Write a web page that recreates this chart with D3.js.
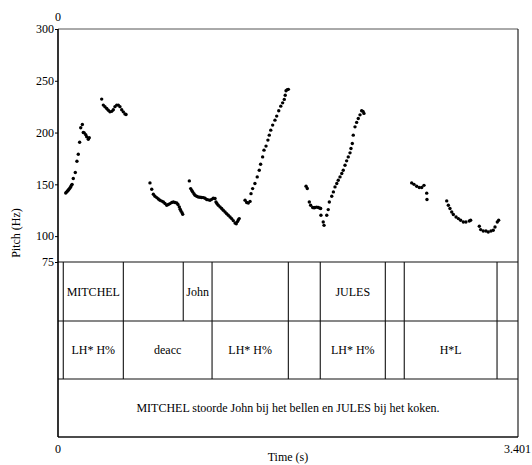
<!DOCTYPE html>
<html><head><meta charset="utf-8">
<script src="https://cdn.jsdelivr.net/npm/d3@7"></script>
<style>body{margin:0;background:#fff}svg{display:block}</style>
</head><body><svg id="c" width="532" height="465"></svg>
<script>
const pitchTime = [
0.057,0.063,0.069,0.075,0.081,0.088,0.094,0.099,0.104,0.113,0.128,0.140,0.150,0.160,0.168,0.180,0.187,0.194,0.205,0.212,0.224,0.231,
0.323,0.335,0.347,0.360,0.372,0.384,0.397,0.409,0.421,0.434,0.446,0.458,0.471,0.483,0.495,0.503,
0.680,0.693,0.705,0.717,0.730,0.742,0.754,0.767,0.779,0.791,0.804,0.816,0.828,0.841,0.853,0.865,0.878,0.887,0.897,0.903,0.909,0.917,0.922,
0.971,0.981,0.989,0.996,1.005,1.013,1.025,1.037,1.050,1.062,1.075,1.087,1.099,1.111,1.124,1.136,1.148,1.161,1.168,1.175,1.185,1.198,1.210,1.222,1.235,1.247,1.259,1.272,1.284,1.296,1.309,1.318,1.327,1.333,1.340,
1.383,1.395,1.407,1.420,1.427,1.439,1.456,1.473,1.488,1.498,1.513,1.523,1.538,1.552,1.562,1.573,1.587,1.604,1.617,1.632,1.647,1.661,1.673,1.680,1.686,1.695,1.703,
1.834,1.843,1.858,1.868,1.883,1.893,1.900,1.913,1.925,1.937,1.942,1.944,1.961,1.967,1.987,1.998,2.006,2.024,2.036,2.048,2.061,2.072,2.085,2.098,2.109,2.122,2.134,2.146,2.159,2.166,2.176,2.183,2.196,2.208,2.220,2.233,2.245,2.255,2.262,
2.615,2.632,2.652,2.671,2.689,2.706,2.726,2.728,
2.874,2.886,2.898,2.911,2.923,2.943,2.960,2.977,2.997,3.016,3.041,3.051,
3.115,3.125,3.144,3.164,3.181,3.201,3.218,3.231,3.248,3.258];
const pitchHz = [
141.7,142.5,143.3,144.3,145.3,146.5,147.5,149,150,155.6,161.4,172.3,179,190.7,204.6,207.8,200,199.7,198,196,193.6,195,
232.3,226.5,224.9,223.3,221.5,220,220.5,222,225,226.5,226.5,225,222,220,218,217.5,
151.4,145.3,140.4,138.5,137.2,135.8,134.6,133.8,133,131.5,129.8,130.5,131.4,132.5,133,132.5,132,130.5,128.2,126,124.3,122.5,121,
153.3,145.9,144,142.7,141,139.5,138.5,137.8,137.5,137.3,137.2,136.5,135.3,135,134.6,135.5,136.5,136.3,133,131.5,129.8,128.2,126.6,125,123.3,121.7,120.1,118.5,116.9,115,112.7,112,114,115.5,116.9,
134.6,132.5,132,133.5,141,145.9,150.8,157.2,163.6,169.4,176.5,183,186.9,192.7,197.5,202.3,207.2,212,215.9,221,225.5,228.7,232,236,240.3,241.5,241.7,
148.2,146,133,129.8,127.6,127.4,127.6,128,127.6,127,126.6,120.1,113.6,110.4,120.1,125.6,133,138.5,142.7,147.5,150.8,154,157.2,160.4,163.6,168.5,172.7,176.5,180.4,184.6,189.5,197.5,205.5,209.8,213.6,217.1,221,220.5,218.5,
151.4,150,148.2,146.9,147,149,141.5,135.3,
134,129.8,126.6,123.3,120.8,118.5,116.9,115.3,113.6,113.6,114.6,115.3,
109.5,106.3,105,105,104,105,105.6,108.8,113.6,115.3];
const yTicks = [75,100,150,200,250,300];
const wordBounds = [0,0.039,0.483,0.926,1.139,1.703,1.939,2.420,2.560,3.246,3.401];
const wordLabels = ["","MITCHEL","","John","","","JULES","","",""];
const toneBounds = [0,0.039,0.483,1.139,1.703,1.939,2.420,2.560,3.246,3.401];
const toneLabels = ["","LH* H%","deacc","LH* H%","","LH* H%","","H*L",""];
const sentence = "MITCHEL stoorde John bij het bellen en JULES bij het koken.";
const tMax = 3.401;

const FONT = "'Liberation Serif', 'DejaVu Serif', 'Noto Serif', Times, serif";
const svg = d3.select("#c");
const L=58, R=518, T=29, P=262, R1=321, R2=379, B=437;
const x = d3.scaleLinear().domain([0,tMax]).range([L,R]);
const y = d3.scaleLinear().domain([75,300]).range([P,T]);

function txt(sel){ return sel.attr("font-family",FONT).attr("font-size",12).attr("fill","#000"); }

// frame
svg.append("line").attr("x1",L).attr("x2",R).attr("y1",T).attr("y2",T).attr("stroke","#555").attr("stroke-width",1);
svg.append("line").attr("x1",R).attr("x2",R).attr("y1",T).attr("y2",B).attr("stroke","#222").attr("stroke-width",1.2);
[P,R1,R2,B].forEach(v=>svg.append("line").attr("x1",L).attr("x2",R).attr("y1",v).attr("y2",v).attr("stroke","#111").attr("stroke-width",v===B?1.6:1.2));

// tier boundaries
function tier(bounds, labels, y0, y1){
  bounds.slice(1,-1).forEach(b=>svg.append("line").attr("x1",x(b)).attr("x2",x(b)).attr("y1",y0).attr("y2",y1).attr("stroke","#111").attr("stroke-width",1.1));
  labels.forEach((lab,i)=>{ if(!lab) return;
    txt(svg.append("text").attr("x",(x(bounds[i])+x(bounds[i+1]))/2).attr("y",(y0+y1)/2).attr("dy","0.35em")
      .attr("text-anchor","middle")).text(lab);});
}
tier(wordBounds, wordLabels, P, R1);
tier(toneBounds, toneLabels, R1, R2);
txt(svg.append("text").attr("x",(L+R)/2).attr("y",(R2+B)/2).attr("dy","0.35em").attr("text-anchor","middle")).text(sentence);

// y axis
const ax = svg.append("g").attr("transform",`translate(${L},0)`).call(d3.axisLeft(y).tickValues(yTicks).tickSize(3).tickPadding(1));
ax.attr("font-family",null).attr("font-size",null);
ax.select(".domain").remove();
ax.selectAll("line").attr("stroke","#000");
txt(ax.selectAll("text"));
svg.append("line").attr("x1",L).attr("x2",L).attr("y1",T).attr("y2",B).attr("stroke","#000").attr("stroke-width",1.6);

// time labels
txt(svg.append("text").attr("x",L).attr("y",T-8).attr("text-anchor","middle")).text("0");
txt(svg.append("text").attr("x",L).attr("y",B+16).attr("text-anchor","middle")).text("0");
txt(svg.append("text").attr("x",531).attr("y",B+16).attr("text-anchor","end")).text(String(tMax));
txt(svg.append("text").attr("x",(L+R)/2).attr("y",B+24).attr("text-anchor","middle")).text("Time (s)");
txt(svg.append("text").attr("transform",`translate(20,${(T+B)/2}) rotate(-90)`).attr("text-anchor","middle")).text("Pitch (Hz)");

// points
svg.append("g").selectAll("circle").data(pitchTime.map((t,i)=>[t,pitchHz[i]])).join("circle")
  .attr("cx",d=>x(d[0])).attr("cy",d=>y(d[1])).attr("r",1.7).attr("fill","#000");
</script></body></html>
